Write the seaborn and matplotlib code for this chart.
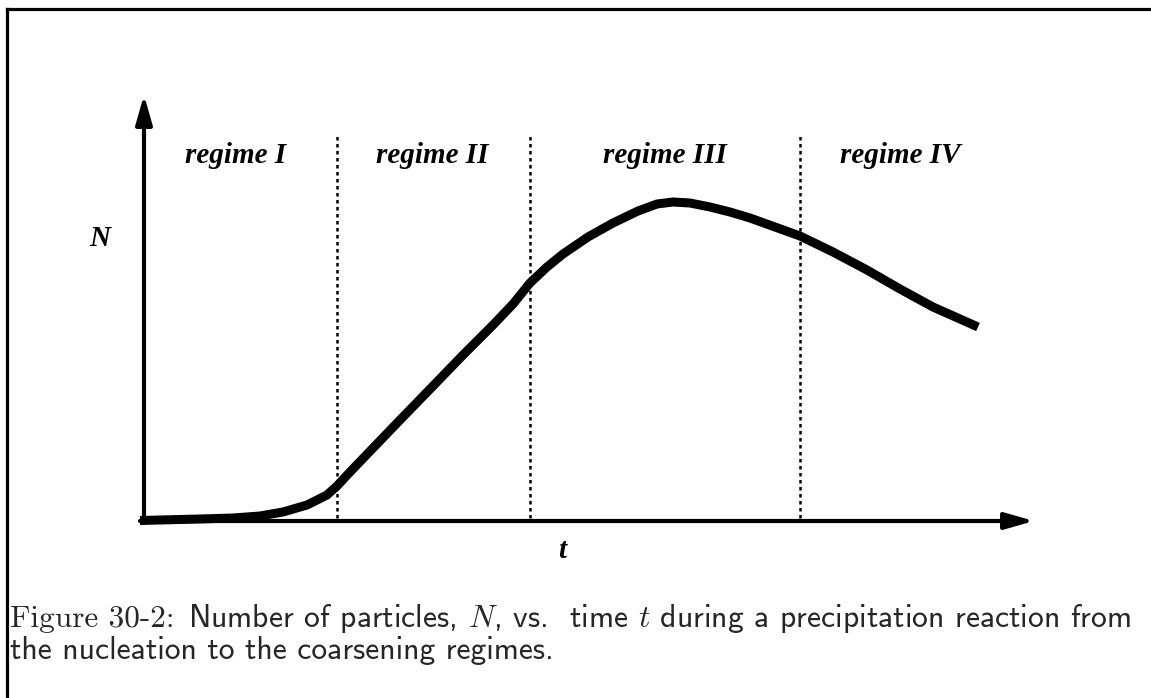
import numpy as np
import matplotlib
matplotlib.use("Agg")
import matplotlib.pyplot as plt
from matplotlib.lines import Line2D
import seaborn as sns

# curve: time t and number of particles N (arbitrary units)
t_vals = [-0.04, 0.56, 0.89, 1.16, 1.39, 1.63, 1.83, 1.93, 2.06, 2.56, 2.89, 3.19,
          3.49, 3.69, 3.86, 4.03, 4.19, 4.44, 4.69, 4.94, 5.13, 5.29, 5.46, 5.66,
          5.86, 6.06, 6.56, 6.89, 7.23, 7.56, 7.89, 8.34]
N_vals = [0.005, 0.02, 0.03, 0.05, 0.09, 0.16, 0.26, 0.35, 0.49, 1.01, 1.35, 1.66,
          1.96, 2.17, 2.38, 2.54, 2.67, 2.84, 2.98, 3.10, 3.17, 3.19, 3.18, 3.14,
          3.09, 3.03, 2.85, 2.69, 2.51, 2.32, 2.14, 1.94]

# regime boundaries (dotted lines) and labels
boundaries = [1.93, 3.86, 6.56]
regime_labels = ["regime I", "regime II", "regime III", "regime IV"]
regime_centers = [0.92, 2.88, 5.21, 7.56]

t_axis_end = 8.90
N_axis_end = 4.26

caption_1a = "Figure 30-2:"
caption_1b = r"Number of particles, $N$, vs.  time $t$ during a precipitation reaction from"
caption_2 = "the nucleation to the coarsening regimes."

sns.set_style("white")
plt.rcParams["mathtext.fontset"] = "cm"

fig = plt.figure(figsize=(11.51, 6.98), dpi=100)
ax = fig.add_axes([0, 0, 1, 1])
ax.set_xlim(-1.44, 10.07)
ax.set_ylim(-1.77, 5.21)
ax.axis("off")

# axes arrows
arrow = dict(arrowstyle="-|>,head_length=1.75,head_width=0.5", color="black",
             lw=3, mutation_scale=10, shrinkA=0, shrinkB=0)
ax.annotate("", xy=(0, N_axis_end), xytext=(0, 0), arrowprops=arrow)
ax.annotate("", xy=(t_axis_end, 0), xytext=(-0.04, 0), arrowprops=arrow)

# dotted regime boundaries
ax.vlines(boundaries, 0.03, 3.86, colors="black", lw=1.8, linestyles=(0, (1.4, 1.4)))

# N(t) curve
sns.lineplot(x=t_vals, y=N_vals, sort=False, color="black", lw=6.5,
             solid_capstyle="butt", solid_joinstyle="round", ax=ax)

lab = dict(fontfamily="Liberation Serif", fontweight="bold", fontstyle="italic",
           fontsize=21, color="black")
for xc, txt in zip(regime_centers, regime_labels):
    ax.text(xc, 3.58, txt, ha="center", va="baseline", **lab)
ax.text(-0.44, 2.75, "N", ha="center", va="baseline", **lab)
ax.text(4.18, -0.37, "t", ha="center", va="baseline", **lab)

# caption
fig.text(10 / 1151, 1 - 627 / 698, caption_1a, family="cmr10", fontsize=22.5, va="baseline")
fig.text(188 / 1151, 1 - 627 / 698, caption_1b, family="cmss10", fontsize=22.8, va="baseline")
fig.text(10 / 1151, 1 - 659 / 698, caption_2, family="cmss10", fontsize=22.8, va="baseline")

# frame (top and left edges)
fig.add_artist(Line2D([7 / 1151, 1], [1 - 8.5 / 698] * 2, lw=2.3, color="black",
                      solid_capstyle="projecting"))
fig.add_artist(Line2D([7 / 1151] * 2, [0, 1 - 8.5 / 698], lw=2.3, color="black",
                      solid_capstyle="projecting"))

fig.savefig("out.png", dpi=100)
